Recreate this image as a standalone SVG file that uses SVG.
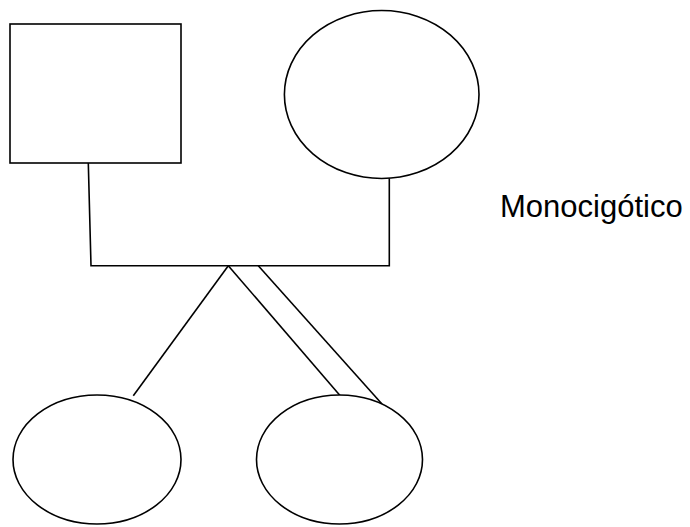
<svg xmlns="http://www.w3.org/2000/svg" width="690" height="527" viewBox="0 0 690 527">
<style>
.n{fill:#fff;stroke:#000;stroke-width:1.6}
.c{fill:none;stroke:#000;stroke-width:1.6}
.t{font-family:"Liberation Sans",Arial,sans-serif;font-size:31px;fill:#000}
</style>
<rect width="690" height="527" fill="#fff"/>
<g id="connectors">
<polyline class="c" points="88.3,163 91,265.7 389.3,265.7 389.3,178"/>
<line class="c" x1="228.3" y1="265.7" x2="133.3" y2="395.7"/>
<line class="c" x1="228.3" y1="265.7" x2="340" y2="395.5"/>
<line class="c" x1="258.3" y1="265.7" x2="382" y2="404"/>
</g>
<g id="father"><rect class="n" x="10" y="24" width="171" height="139"/></g>
<g id="mother"><ellipse class="n" cx="381.7" cy="94.5" rx="97.3" ry="84"/></g>
<g id="twin1"><ellipse class="n" cx="97" cy="459.5" rx="84" ry="64.5"/></g>
<g id="twin2"><ellipse class="n" cx="339.5" cy="459.5" rx="83" ry="64.5"/></g>
<g id="label"><text class="t" x="500" y="217">Monocigótico</text></g>
</svg>
